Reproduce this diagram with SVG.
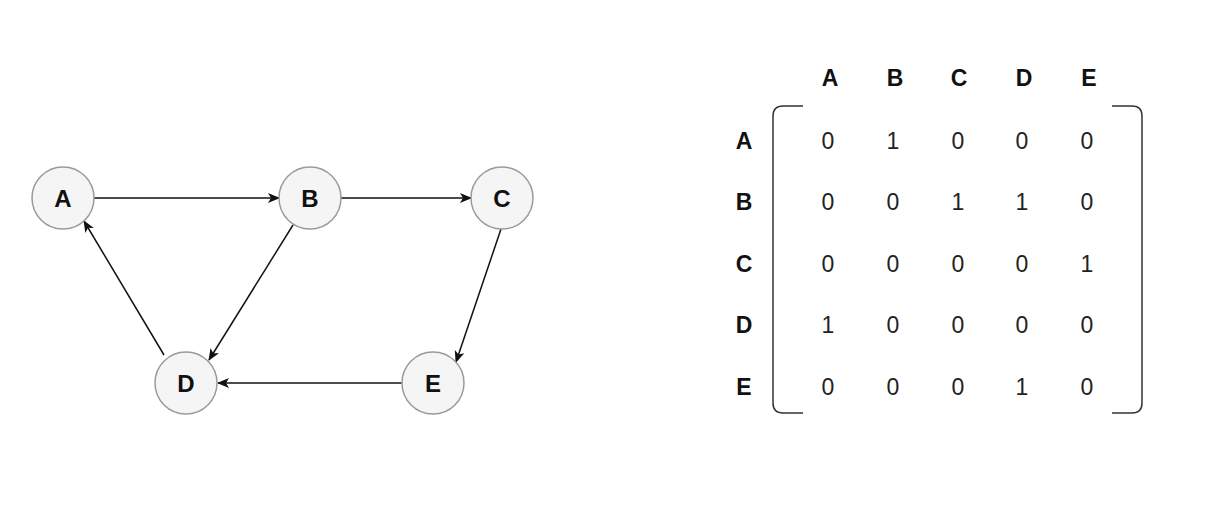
<svg xmlns="http://www.w3.org/2000/svg" width="1228" height="522" viewBox="0 0 1228 522">
<style>
.node circle{fill:#f5f5f5;stroke:#9a9a9a;stroke-width:1.5}
.lbl{font-family:"Liberation Sans",Arial,sans-serif;font-weight:bold;font-size:23px;fill:#111;text-anchor:middle;dominant-baseline:central}
.node .lbl{font-size:24px}
.num{font-family:"Liberation Sans",Arial,sans-serif;font-size:23px;fill:#222;text-anchor:middle;dominant-baseline:central}
.edge{stroke:#111;stroke-width:1.5;fill:none;marker-end:url(#arr)}
.br{stroke:#333;stroke-width:1.5;fill:none}
</style>
<defs>
<marker id="arr" viewBox="0 0 12 12" refX="11" refY="6" markerWidth="12" markerHeight="12" markerUnits="userSpaceOnUse" orient="auto">
<path d="M0,1 L12,6 L0,11 L3,6 Z" fill="#111"/>
</marker>
</defs>
<rect width="1228" height="522" fill="#fff"/>
<g id="connectors">
<line class="edge" x1="94" y1="198" x2="279" y2="198"/>
<line class="edge" x1="341" y1="198" x2="471" y2="198"/>
<line class="edge" x1="293" y1="225" x2="209" y2="360"/>
<line class="edge" x1="164" y1="355" x2="84" y2="221"/>
<line class="edge" x1="501" y1="229" x2="456" y2="362"/>
<line class="edge" x1="402" y1="383" x2="218" y2="383"/>
</g>
<g id="node-A" class="node"><circle cx="63" cy="198" r="31"/><text class="lbl" x="63" y="198">A</text></g>
<g id="node-B" class="node"><circle cx="310" cy="198" r="31"/><text class="lbl" x="310" y="198">B</text></g>
<g id="node-C" class="node"><circle cx="502" cy="198" r="31"/><text class="lbl" x="502" y="198">C</text></g>
<g id="node-D" class="node"><circle cx="186" cy="383" r="31"/><text class="lbl" x="186" y="383">D</text></g>
<g id="node-E" class="node"><circle cx="433" cy="383" r="31"/><text class="lbl" x="433" y="383">E</text></g>
<g id="matrix">
<g id="col-headers">
<text class="lbl" x="830" y="78">A</text>
<text class="lbl" x="895" y="78">B</text>
<text class="lbl" x="959" y="78">C</text>
<text class="lbl" x="1024" y="78">D</text>
<text class="lbl" x="1089" y="78">E</text>
</g>
<g id="row-headers">
<text class="lbl" x="744" y="141">A</text>
<text class="lbl" x="744" y="202">B</text>
<text class="lbl" x="744" y="264">C</text>
<text class="lbl" x="744" y="325">D</text>
<text class="lbl" x="744" y="387">E</text>
</g>
<path class="br" d="M803,106 L783,106 Q773,106 773,116 L773,403 Q773,413 783,413 L803,413"/>
<path class="br" d="M1112,106 L1132,106 Q1142,106 1142,116 L1142,403 Q1142,413 1132,413 L1112,413"/>
<g id="values">
<text class="num" x="828" y="141">0</text><text class="num" x="893" y="141">1</text><text class="num" x="958" y="141">0</text><text class="num" x="1022" y="141">0</text><text class="num" x="1087" y="141">0</text>
<text class="num" x="828" y="202">0</text><text class="num" x="893" y="202">0</text><text class="num" x="958" y="202">1</text><text class="num" x="1022" y="202">1</text><text class="num" x="1087" y="202">0</text>
<text class="num" x="828" y="264">0</text><text class="num" x="893" y="264">0</text><text class="num" x="958" y="264">0</text><text class="num" x="1022" y="264">0</text><text class="num" x="1087" y="264">1</text>
<text class="num" x="828" y="325">1</text><text class="num" x="893" y="325">0</text><text class="num" x="958" y="325">0</text><text class="num" x="1022" y="325">0</text><text class="num" x="1087" y="325">0</text>
<text class="num" x="828" y="387">0</text><text class="num" x="893" y="387">0</text><text class="num" x="958" y="387">0</text><text class="num" x="1022" y="387">1</text><text class="num" x="1087" y="387">0</text>
</g>
</g>
</svg>
